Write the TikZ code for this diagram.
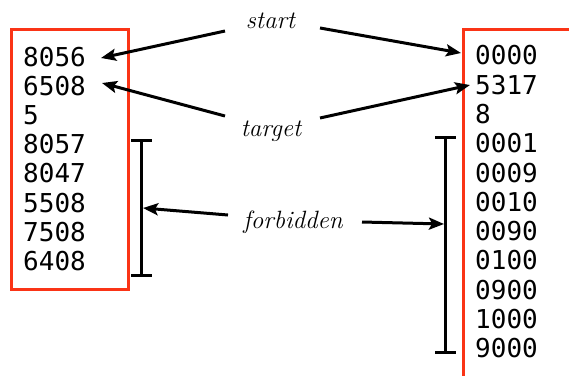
\documentclass[tikz,border=0pt]{standalone}
\usepackage{fontspec}
\setmonofont{DejaVu Sans Mono}
\usetikzlibrary{arrows.meta}
\definecolor{boxred}{RGB}{250,52,22}
\tikzset{
  num/.style={anchor=base west,inner sep=0pt,font=\ttfamily\fontsize{26bp}{29bp}\selectfont},
  lab/.style={anchor=base,inner sep=0pt,font=\itshape\fontsize{25bp}{29bp}\selectfont},
  redbox/.style={draw=boxred,line width=3bp},
  arr/.style={line width=3bp,-{Stealth[length=15bp,width=12bp,inset=3bp]}},
  brk/.style={line width=3bp}
}
\begin{document}
\begin{tikzpicture}[x=1bp,y=-1bp]
\useasboundingbox (0,0) rectangle (569,375);
\clip (0,0) rectangle (569,375);
% boxes
\draw[redbox] (11,29) rectangle (128,289);
\draw[redbox] (463,380) -- (463,29.5) -- (575,29.5);
% left column
\foreach \t [count=\i from 0] in {8056,6508,5,8057,8047,5508,7508,6408}
  \node[num] (L\i) at (23,{66.5+29.1*\i}) {\t};
% right column
\foreach \t [count=\i from 0] in {0000,5317,8,0001,0009,0010,0090,0100,0900,1000,9000}
  \node[num] (R\i) at (475,{64.8+29.3*\i}) {\t};
% labels
\node[lab] (start) at (270.5,28) {start};
\node[lab] (target) at (271,136) {target};
\node[lab] (forb) at (293,228) {forbidden};
% brackets
\coordinate (lbt) at (141,140);
\coordinate (lbb) at (141,275);
\coordinate (rbt) at (445,137);
\coordinate (rbb) at (445,352);
\draw[brk] (lbt) -- (lbb);
\draw[brk] ([xshift=-10bp]lbt) -- ([xshift=11bp]lbt);
\draw[brk] ([xshift=-10bp]lbb) -- ([xshift=11bp]lbb);
\draw[brk] (rbt) -- (rbb);
\draw[brk] ([xshift=-10bp]rbt) -- ([xshift=11bp]rbt);
\draw[brk] ([xshift=-10bp]rbb) -- ([xshift=11bp]rbb);
% arrow end points
\coordinate (sa) at (225,31);
\coordinate (sb) at (320,28);
\coordinate (ta) at (225,116);
\coordinate (tb) at (320,118);
\coordinate (fa) at (228,215);
\coordinate (fb) at (362,222);
\coordinate (sL) at (101,58);
\coordinate (sR) at (461,53);
\coordinate (tL) at (102,83);
\coordinate (tR) at (470,85);
\coordinate (fL) at (143,208);
\coordinate (fR) at (444,224);
\draw[arr] (sa) -- (sL);
\draw[arr] (sb) -- (sR);
\draw[arr] (ta) -- (tL);
\draw[arr] (tb) -- (tR);
\draw[arr] (fa) -- (fL);
\draw[arr] (fb) -- (fR);
\end{tikzpicture}
\end{document}
